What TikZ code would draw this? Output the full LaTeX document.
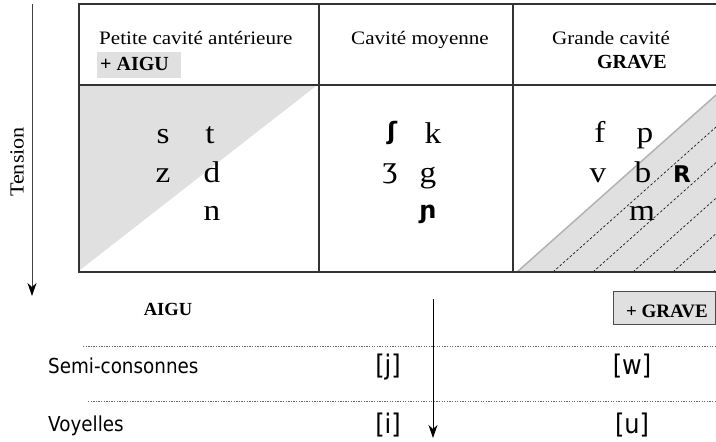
\documentclass[tikz,border=0pt]{standalone}
\usepackage{fontspec}
\setmainfont{Liberation Serif}[FakeStretch=1.11]
\newfontfamily\boldserif{Liberation Serif}
\newfontfamily\condsans{DejaVu Sans}[FakeStretch=0.89]
\newfontfamily\ipasans{DejaVu Sans}
\usetikzlibrary{arrows.meta}
\definecolor{cellgray}{HTML}{E0E0E0}
\newcommand{\fsz}[1]{\fontsize{#1}{#1}\selectfont}
\begin{document}
\begin{tikzpicture}[x=1pt,y=-1pt,
  hd/.style={font=\fsz{19}, anchor=base west, inner sep=0pt},
  hdb/.style={font=\boldserif\bfseries\fsz{20}, inner sep=0pt},
  ph/.style={font=\fsz{30}, anchor=base, inner sep=0pt},
  ipa/.style={font=\ipasans\bfseries\fsz{24}, anchor=center, inner sep=0pt},
  lab/.style={font=\condsans\fsz{20.6}, anchor=base west, inner sep=0pt},
  brk/.style={font=\condsans\fsz{27}, anchor=base, inner sep=0pt},
  grid/.style={draw=black!80, line width=1.2pt},
  arr/.style={draw=black!75, line width=1pt, -{Stealth[length=13pt,width=9pt,inset=4pt,color=black]}},
  dots/.style={draw=black!60, line width=0.8pt, dash pattern=on 1.3pt off 1.3pt},
  hatch/.style={draw=black, line width=0.6pt, dash pattern=on 2.5pt off 2pt}]
\useasboundingbox (0,0) rectangle (716,442);
% shaded triangles
\fill[cellgray] (80,86) -- (316,86) -- (80,270) -- cycle;
\fill[cellgray] (517,272) -- (716,95) -- (716,272) -- cycle;
\begin{scope}
  \clip (517,272) -- (716,95) -- (716,272) -- cycle;
  \foreach \xb in {553,593,633,673,713} \draw[hatch] (\xb,272) -- ++(199,-177);
\end{scope}
\draw[draw=black!30, line width=1.5pt] (517,272) -- (716,95);
% table
\draw[grid] (716,4) -- (79,4) -- (79,272) -- (716,272);
\draw[grid] (79,85) -- (716,85);
\draw[grid] (319,4) -- (319,272);
\draw[grid] (513,4) -- (513,272);
% tension axis
\coordinate (tensTop) at (32,4);
\coordinate (tensBot) at (32,296);
\draw[arr] (tensTop) -- (tensBot);
\node[font=\fsz{20}, rotate=90, inner sep=0pt] (tension) at (17,162) {Tension};
% headers
\node[hd] (h1) at (99,44) {Petite cavité antérieure};
\node[fill=cellgray, minimum width=84pt, minimum height=26pt, inner sep=0pt, anchor=north west] (aigubox) at (97,52) {};
\node[hdb, anchor=base west] (aigu) at (100,70) {+ AIGU};
\node[hd, anchor=base] (h2) at (420,44) {Cavité moyenne};
\node[hd] (h3) at (552,44) {Grande cavité};
\node[hdb, anchor=base] (grave) at (632,68) {GRAVE};
% phonemes
\node[ph] (s) at (163,143) {s};
\node[ph] (t) at (210,143) {t};
\node[ph] (z) at (163,182) {z};
\node[ph] (d) at (212,182) {d};
\node[ph] (n) at (212,220) {n};
\node[ipa] (sh) at (392,133) {ʃ};
\node[ph] (k) at (433,143) {k};
\node[ph, anchor=center] (zh) at (390,174) {ʒ};
\node[ph] (g) at (428,182) {g};
\node[ipa] (ny) at (428,214) {ɲ};
\node[ph] (f) at (600,142) {f};
\node[ph] (p) at (645,142) {p};
\node[ph] (v) at (598,182) {v};
\node[ph] (b) at (643,182) {b};
\node[font=\ipasans\bfseries\fsz{23}, anchor=base, inner sep=0pt] (R) at (682,182) {R};
\node[ph] (m) at (642,220) {m};
% bottom part
\node[hdb, font=\boldserif\bfseries\fsz{18.5}, anchor=base] (aigu2) at (168,315) {AIGU};
\node[fill=cellgray, draw=black!70, line width=1.2pt, minimum width=102pt, minimum height=33pt, inner sep=0pt, anchor=north west] (gravebox) at (613,291) {};
\node[hdb, font=\boldserif\bfseries\fsz{19}, anchor=base] (grave2) at (667,317) {+ GRAVE};
\coordinate (d1a) at (83,346);
\coordinate (d1b) at (716,346);
\coordinate (d2a) at (88,401);
\coordinate (d2b) at (716,401);
\draw[dots] (d1a) -- (d1b);
\draw[dots] (d2a) -- (d2b);
\coordinate (midTop) at (433,299);
\coordinate (midBot) at (433,438);
\draw[arr, draw=black] (midTop) -- (midBot);
\node[lab] (semi) at (48,373) {Semi-consonnes};
\node[lab] (voy) at (48,431) {Voyelles};
\node[brk] (j) at (388,374) {[j]};
\node[brk] (w) at (632,374) {[w]};
\node[brk] (i) at (388,433) {[i]};
\node[brk] (u) at (632,433) {[u]};
\end{tikzpicture}
\end{document}
